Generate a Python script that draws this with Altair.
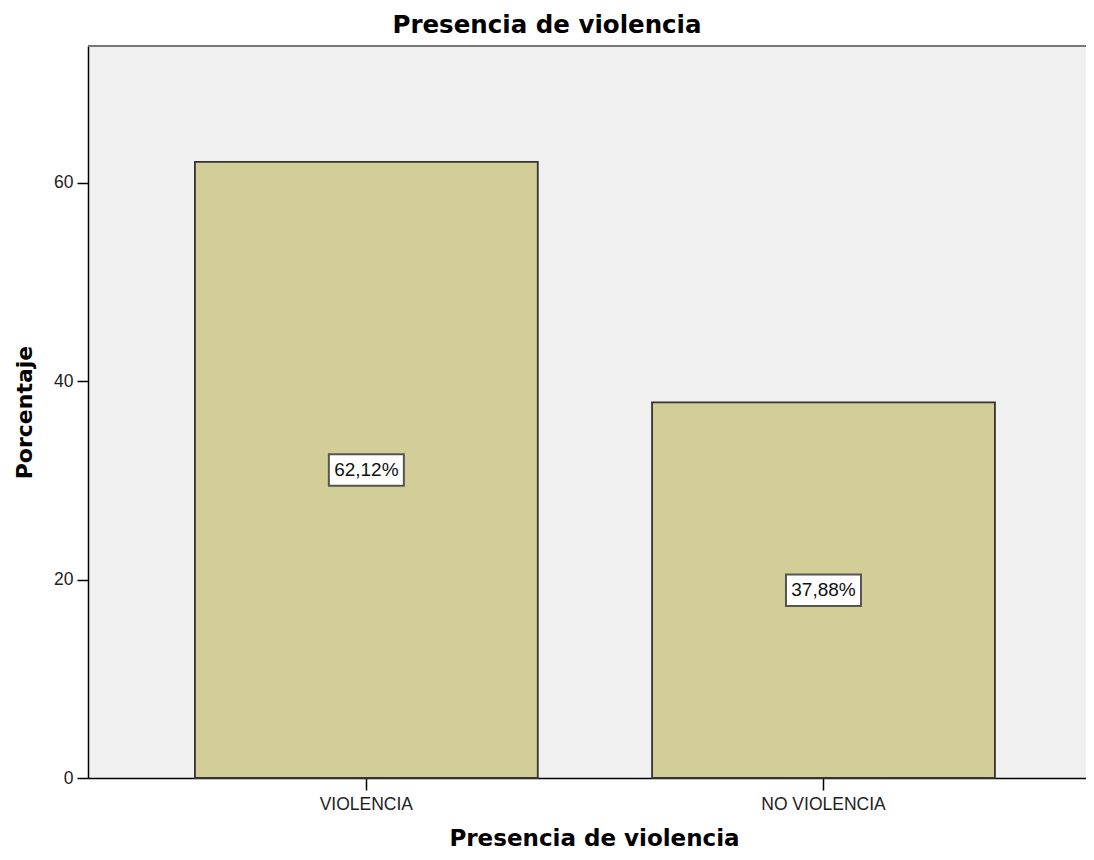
import altair as alt
import pandas as pd

categories = ["VIOLENCIA", "NO VIOLENCIA"]
percentages = [62.12, 37.88]
label_texts = ["62,12%", "37,88%"]

df = pd.DataFrame({
    "cat": categories,
    "pct": percentages,
    "label": label_texts,
})
df["mid"] = df["pct"] / 2

x_enc = alt.X(
    "cat:N",
    sort=categories,
    scale=alt.Scale(paddingInner=0.25, paddingOuter=0.2166, align=0.54),
    axis=alt.Axis(
        title="Presencia de violencia",
        titleFont="DejaVu Sans", titleFontWeight="bold", titleFontSize=23,
        titleColor="#000000", titleBaseline="alphabetic", titleY=67,
        titleX=506, titleAlign="center",
        labelFont="Liberation Sans", labelFontSize=17.5, labelColor="#222222",
        labelAngle=0, labelPadding=5,
        tickSize=12, tickColor="#000000", tickWidth=1.5,
        domainColor="#000000", domainWidth=1.5,
    ),
)

y_scale = alt.Scale(domain=[0, 73.8], nice=False)

bars = alt.Chart(df).mark_bar(
    fill="#D3CD97", stroke="#333333", strokeWidth=1.8
).encode(
    x=x_enc,
    y=alt.Y(
        "pct:Q",
        scale=y_scale,
        axis=alt.Axis(
            title="Porcentaje", values=[0, 20, 40, 60],
            titleFont="DejaVu Sans", titleFontWeight="bold", titleFontSize=22,
            titleColor="#000000", titleX=-64, titleBaseline="middle",
            labelFont="Liberation Sans", labelFontSize=17.5, labelColor="#222222",
            labelPadding=4, tickSize=11, tickColor="#000000", tickWidth=1.5,
            domainColor="#000000", domainWidth=1.5, grid=False,
        ),
    ),
)

boxes = alt.Chart(df).mark_point(
    shape="M-1,-0.42L1,-0.42L1,0.42L-1,0.42Z",
    size=5625, filled=True, fill="#ffffff", stroke="#555555",
    strokeWidth=2, opacity=1,
).encode(
    x=alt.X("cat:N", sort=categories),
    y=alt.Y("mid:Q", scale=y_scale),
)

texts = alt.Chart(df).mark_text(
    font="Liberation Sans", fontSize=19, color="#111111",
    align="center", baseline="middle",
).encode(
    x=alt.X("cat:N", sort=categories),
    y=alt.Y("mid:Q", scale=y_scale),
    text="label:N",
)

top_line = alt.Chart(df).mark_rule(color="#777777", strokeWidth=2).encode(
    x=alt.value(0), x2=alt.value(998), y=alt.value(0)
)

chart = alt.layer(bars, boxes, texts, top_line).properties(
    width=998,
    height=732,
    padding={"left": 80, "top": 38, "right": 0, "bottom": 74},
    autosize=alt.AutoSizeParams(type="none"),
    title=alt.TitleParams(
        "Presencia de violencia", font="DejaVu Sans", fontWeight="bold",
        fontSize=24.5, color="#000000", anchor="middle", frame="group",
        dx=-40, offset=7,
    ),
).configure_view(
    fill="#F0F0F0", stroke=None
)

chart.save("out.html", embed_options={"renderer": "svg", "actions": False})
